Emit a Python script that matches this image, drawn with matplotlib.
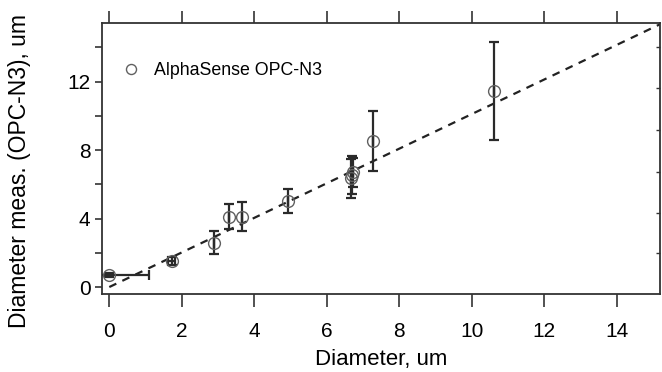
import matplotlib
matplotlib.use("Agg")
import matplotlib.pyplot as plt
import numpy as np

plt.rcParams["font.family"] = ["Liberation Sans", "DejaVu Sans"]

# measured points (reference diameter vs OPC-N3 diameter)
diam_ref  = [0.0, 1.72, 2.90, 3.31, 3.66, 4.92, 6.68, 6.70, 6.72, 7.29, 10.61]
diam_meas = [0.68, 1.52, 2.60, 4.12, 4.12, 5.03, 6.35, 6.55, 6.70, 8.52, 11.45]
yerr      = [0.12, 0.25, 0.65, 0.72, 0.82, 0.72, 1.15, 1.10, 0.85, 1.77, 2.86]
xerr      = [1.10, 0.10, 0, 0, 0, 0, 0, 0, 0, 0, 0]

# 1:1 fit line
fit_slope = 1.01
fit_icpt = 0.0
fit_x = [0.0, 15.3]

x_ticks = [0, 2, 4, 6, 8, 10, 12, 14]
y_ticks = [0, 4, 8, 12]
y_minor = [2, 6, 10, 14]
right_ticks = [1.98, 4.33, 6.74, 9.18, 11.63, 14.05]

fig = plt.figure(figsize=(6.62, 3.72), dpi=100)
ax = fig.add_axes([0.1536, 0.21, 0.8434, 0.727])

fx = np.array(fit_x)
ax.plot(fx, fit_slope * fx + fit_icpt, ls=(0, (3.5, 3)), color="#222222", lw=1.6, zorder=2)

ax.errorbar(diam_ref, diam_meas, yerr=yerr, xerr=xerr, fmt="none",
            ecolor="#2a2a2a", elinewidth=1.6, capsize=3.8, capthick=1.6, zorder=3)
ax.plot(diam_ref, diam_meas, "o", ms=8.5, mfc="none", mec="#606060", mew=1.0,
        zorder=4, label="AlphaSense OPC-N3")

ax.set_xlim(-0.21, 15.2)
ax.set_ylim(-0.4, 15.4)

ax.set_xticks(x_ticks)
ax.set_yticks(y_ticks)
ax.set_yticks(y_minor, minor=True)
ax.tick_params(axis="x", direction="out", length=9, width=1.2, top=True,
               labeltop=False, labelsize=15, pad=11, color="#333333")
ax.tick_params(axis="y", which="both", direction="out", length=5, width=1.2,
               labelsize=15, pad=3, color="#333333")

sec = ax.secondary_yaxis("right")
sec.set_yticks(right_ticks)
sec.tick_params(direction="in", length=3, width=1.0, labelright=False, color="#333333")
sec.spines["right"].set_visible(False)

for sp in ax.spines.values():
    sp.set_linewidth(1.3)
    sp.set_color("#333333")

ax.set_xlabel("Diameter, um", fontsize=16)
ax.set_ylabel("Diameter meas. (OPC-N3), um", fontsize=16.5)
ax.xaxis.set_label_coords(0.5, -0.205)
ax.yaxis.set_label_coords(-0.126, 0.455)

ax.legend(loc="upper left", frameon=False, fontsize=12.8, handletextpad=0.3,
          borderaxespad=0.5, bbox_to_anchor=(-0.008, 0.915), markerscale=0.85)

fig.savefig("out.png", dpi=100)
